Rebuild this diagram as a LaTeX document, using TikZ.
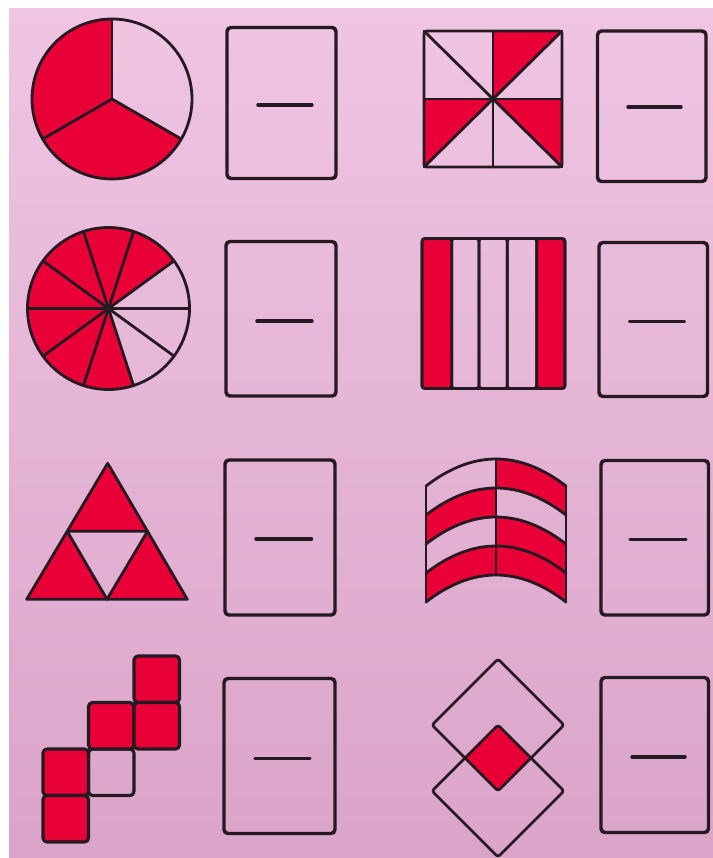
\documentclass[tikz,border=0pt]{standalone}
\usetikzlibrary{calc}
\definecolor{inkc}{RGB}{38,26,34}
\definecolor{redc}{RGB}{232,0,55}
\definecolor{bgtop}{RGB}{239,197,226}
\definecolor{bgbot}{RGB}{218,164,200}
\tikzset{
  ink/.style={draw=inkc, line width=2.1pt, line join=round, line cap=round},
  ansbox/.style={draw=inkc, line width=2.6pt, rounded corners=3pt},
  ansdash/.style={draw=inkc, line width=2.6pt, line cap=round},
}
\begin{document}
\begin{tikzpicture}[x=0.75pt,y=-0.75pt]
\useasboundingbox (0,0) rectangle (713,858);
% background
\fill[white] (0,0) rectangle (713,858);
\shade[top color=bgtop, bottom color=bgbot] (9,8) rectangle (713,858);

% ---------- Row 1 ----------
\coordinate (c1) at (112,99);
\fill[redc] (c1) -- ++(-90:80) arc[start angle=-90, end angle=-330, radius=80] -- cycle;
\draw[ink] (c1) circle[radius=80];
\draw[ink] (c1) -- ++(-90:80);
\draw[ink] (c1) -- ++(150:80);
\draw[ink] (c1) -- ++(30:80);
\draw[ansbox] (227,27.5) rectangle (336,178.5);
\draw[ansdash] (258,105) -- (312,105);

% pinwheel square
\fill[redc] (493,99) -- (493,31) -- (562,31) -- cycle;
\fill[redc] (493,99) -- (424,99) -- (424,167) -- cycle;
\fill[redc] (493,99) -- (562,99) -- (562,167) -- cycle;
\draw[ink] (424,31) -- (562,167);
\draw[ink] (562,31) -- (424,167);
\draw[ink] (493,31) -- (493,167);
\draw[ink] (424,99) -- (562,99);
\draw[ink, rounded corners=2pt] (424,31) rectangle (562,167);
\draw[ansbox] (597.5,31) rectangle (706,181.5);
\draw[ansdash] (628,107) -- (681,107);

% ---------- Row 2 ----------
\coordinate (c2) at (108.5,308.5);
\fill[redc] (c2) -- ++(-36:81) arc[start angle=-36, end angle=-288, radius=81] -- cycle;
\foreach \k in {0,...,9} \draw[ink] (c2) -- ++({-36*\k}:81);
\draw[ink] (c2) circle[radius=81];
\draw[ansbox] (226,241.5) rectangle (336,396);
\draw[ansdash] (257,321) -- (312,321);

% stripes
\foreach \a/\b/\f in {451.7/479/none, 479/507.3/none, 507.3/536.7/none, 422/451.7/redc, 536.7/565/redc}
  \draw[ink, fill=\f, rounded corners=2pt] (\a,238.5) rectangle (\b,388.5);
\draw[ink, rounded corners=2.5pt] (422,238.5) rectangle (565,388.5);
\draw[ansbox] (599,242.5) rectangle (707.5,396.5);
\draw[ansdash] (629.5,321.5) -- (684.5,321.5);

% ---------- Row 3 ----------
\coordinate (tA) at (107.7,463.3);
\coordinate (tBL) at (26.7,599.3);
\coordinate (tBR) at (187.3,599.3);
\coordinate (tL) at (67.2,531.3);
\coordinate (tR) at (147.5,531.3);
\coordinate (tB) at (107,599.3);
\fill[redc] (tA) -- (tL) -- (tR) -- cycle;
\fill[redc] (tL) -- (tBL) -- (tB) -- cycle;
\fill[redc] (tR) -- (tB) -- (tBR) -- cycle;
\draw[ink] (tA) -- (tBL) -- (tBR) -- cycle;
\draw[ink] (tL) -- (tR) -- (tB) -- cycle;
\draw[ansbox] (225,460) rectangle (335,615);
\draw[ansdash] (256,539) -- (311.5,539);

% arch bands
\begin{scope}
  \clip (420,440) rectangle (496,620);
  \fill[redc] (426,515) .. controls (472.7,479) and (519.3,479) .. (566,515) -- (566,544) .. controls (519.3,508) and (472.7,508) .. (426,544) -- cycle;
  \fill[redc] (426,573) .. controls (472.7,537) and (519.3,537) .. (566,573) -- (566,602) .. controls (519.3,566) and (472.7,566) .. (426,602) -- cycle;
\end{scope}
\begin{scope}
  \clip (496,440) rectangle (572,620);
  \fill[redc] (426,486) .. controls (472.7,450) and (519.3,450) .. (566,486) -- (566,515) .. controls (519.3,479) and (472.7,479) .. (426,515) -- cycle;
  \fill[redc] (426,544) .. controls (472.7,508) and (519.3,508) .. (566,544) -- (566,573) .. controls (519.3,537) and (472.7,537) .. (426,573) -- cycle;
  \fill[redc] (426,573) .. controls (472.7,537) and (519.3,537) .. (566,573) -- (566,602) .. controls (519.3,566) and (472.7,566) .. (426,602) -- cycle;
\end{scope}
\draw[ink] (426,486) .. controls (472.7,450) and (519.3,450) .. (566,486);
\draw[ink] (426,515) .. controls (472.7,479) and (519.3,479) .. (566,515);
\draw[ink] (426,544) .. controls (472.7,508) and (519.3,508) .. (566,544);
\draw[ink] (426,573) .. controls (472.7,537) and (519.3,537) .. (566,573);
\draw[ink] (426,602) .. controls (472.7,566) and (519.3,566) .. (566,602);
\draw[ink] (426,486) -- (426,602);
\draw[ink] (566,486) -- (566,602);
\draw[ink] (496,459) -- (496,575);
\draw[ansbox] (601,460.5) rectangle (708.5,615);
\draw[ansdash] (630,539.5) -- (686,539.5);

% ---------- Row 4 ----------
\foreach \x/\y/\f in {88.5/749/none, 134/656/redc, 88.5/702.5/redc, 134/702.5/redc, 43/749/redc, 43/795.5/redc}
  \draw[ink, line width=2.4pt, fill=\f, rounded corners=3pt] (\x,\y) rectangle ++(45.5,46.5);
\draw[ansbox] (224,678.5) rectangle (335,833.5);
\draw[ansdash] (255,758.5) -- (310,758.5);

% diamonds
\fill[redc] (498,725) -- (531,758) -- (498,791) -- (465,758) -- cycle;
\draw[ink, rounded corners=2pt] (498,659) -- (564,725) -- (498,791) -- (432,725) -- cycle;
\draw[ink, rounded corners=2pt] (498,725) -- (564,791) -- (498,857) -- (432,791) -- cycle;
\draw[ansbox] (601,677.5) rectangle (708.5,832.5);
\draw[ansdash] (632,757) -- (685,757);
\end{tikzpicture}
\end{document}
